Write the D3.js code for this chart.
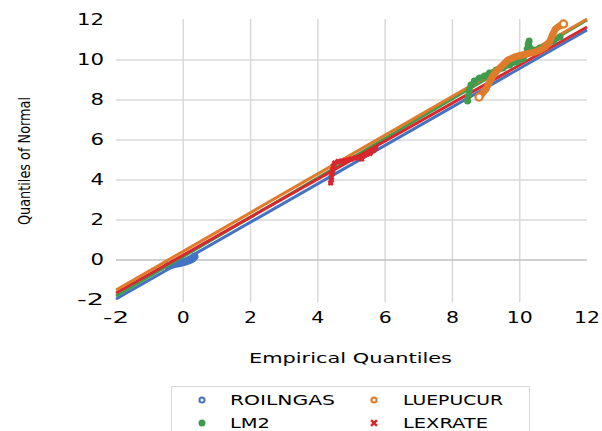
<!DOCTYPE html>
<meta charset="utf-8">
<style>
body { margin: 0; background: #fff; }
svg { display: block; }
.grid line { stroke: #d9d9d9; stroke-width: 1.5px; }
.tick-label { font-family: "DejaVu Sans", sans-serif; fill: #000; }
</style>
<svg width="602" height="431"></svg>
<script src="https://d3js.org/d3.v7.min.js"></script>
<script>

// tick values
var xTicks = [-2, 0, 2, 4, 6, 8, 10, 12];
var yTicks = [-2, 0, 2, 4, 6, 8, 10, 12];

var seriesNames = ["ROILNGAS", "LUEPUCUR", "LM2", "LEXRATE"];

// reference lines [x, y] at both ends
var roilngasLine = [[-2, -1.95], [12, 11.5]];
var lm2Line = [[-2, -1.8], [12, 12.0]];
var lexrateLine = [[-2, -1.65], [12, 11.65]];
var luepucurLine = [[-2, -1.5], [12, 12.05]];

// quantile points [empirical, normal]
var roilngasPts = [[-0.45, -0.3], [-0.38, -0.26], [-0.3, -0.22], [-0.22, -0.19], [-0.15, -0.17],
  [-0.1, -0.15], [-0.05, -0.13], [0, -0.11], [0.05, -0.09], [0.1, -0.06], [0.15, -0.03],
  [0.2, 0.0], [0.25, 0.04], [0.3, 0.1], [0.33, 0.16]];

var lexratePts = [[4.38, 3.85], [4.4, 4.0], [4.4, 4.15], [4.42, 4.3], [4.44, 4.5], [4.46, 4.7],
  [4.5, 4.85], [4.6, 4.92], [4.7, 4.95], [4.8, 4.97], [4.9, 5.0], [5.0, 5.05], [5.1, 5.1],
  [5.2, 5.12], [5.3, 5.05], [5.35, 5.2], [5.45, 5.28], [5.55, 5.33], [5.65, 5.48], [5.72, 5.58]];

var lm2Pts = [[8.45, 7.95], [8.47, 8.2], [8.5, 8.5], [8.55, 8.75], [8.65, 8.95], [8.8, 9.1],
  [8.95, 9.2], [9.1, 9.35], [9.3, 9.5], [9.5, 9.6], [9.7, 9.75], [9.9, 9.9], [10.1, 10.05],
  [10.2, 10.3], [10.22, 10.55], [10.25, 10.8], [10.28, 10.95], [10.3, 10.6], [10.4, 10.5],
  [10.6, 10.6], [10.8, 10.75], [11.0, 10.95], [11.2, 11.15]];

var luepucurPts = [[8.79, 8.15], [8.9, 8.35], [9.0, 8.55], [9.1, 8.9], [9.2, 9.2], [9.34, 9.5],
  [9.5, 9.75], [9.65, 10.0], [9.85, 10.15], [10.07, 10.25], [10.25, 10.32], [10.46, 10.4],
  [10.6, 10.5], [10.76, 10.65], [10.9, 10.95], [10.97, 11.25], [11.06, 11.55], [11.18, 11.7],
  [11.3, 11.8]];

var colors = { ROILNGAS: "#4472c4", LUEPUCUR: "#e07b2a", LM2: "#3f9c4e", LEXRATE: "#d8272d" };

var svg = d3.select("svg");

var x = d3.scaleLinear().domain([-2, 12]).range([116, 587]),
    y = d3.scaleLinear().domain([-2, 12]).range([300, 20]);

// grid
var grid = svg.append("g").attr("class", "grid");
grid.selectAll(".h").data(yTicks.filter(function(d) { return d > -2 && d < 12 && d !== 0; }))
  .enter().append("line")
    .attr("x1", x(-2)).attr("x2", x(12))
    .attr("y1", function(d) { return y(d); }).attr("y2", function(d) { return y(d); });
grid.selectAll(".v").data(xTicks.filter(function(d) { return d > -2 && d < 12; }))
  .enter().append("line")
    .attr("x1", function(d) { return x(d); }).attr("x2", function(d) { return x(d); })
    .attr("y1", y(12) - 1).attr("y2", y(-2) + 2);
svg.append("line")
    .attr("x1", x(-2)).attr("x2", x(12))
    .attr("y1", y(0)).attr("y2", y(0))
    .style("stroke", "#bfbfbf").style("stroke-width", 1.5);

// tick labels
svg.selectAll(".ylab").data(yTicks).enter().append("text")
    .attr("class", "tick-label")
    .attr("x", 104)
    .attr("y", function(d) { return y(d) + 5; })
    .attr("text-anchor", "end")
    .style("font-size", "16px")
    .attr("textLength", function(d) { return String(d).length * 13.5; })
    .attr("lengthAdjust", "spacingAndGlyphs")
    .text(function(d) { return d < 0 ? "-" + Math.abs(d) : d; });

svg.selectAll(".xlab").data(xTicks).enter().append("text")
    .attr("class", "tick-label")
    .attr("x", function(d) { return x(d); })
    .attr("y", 323)
    .attr("text-anchor", "middle")
    .style("font-size", "16px")
    .attr("textLength", function(d) { return String(d).length * 13; })
    .attr("lengthAdjust", "spacingAndGlyphs")
    .text(function(d) { return d < 0 ? "-" + Math.abs(d) : d; });

// titles
svg.append("text")
    .attr("class", "tick-label")
    .attr("x", 249).attr("y", 363)
    .style("font-size", "14px")
    .attr("textLength", 203)
    .attr("lengthAdjust", "spacingAndGlyphs")
    .text("Empirical Quantiles");

svg.append("text")
    .attr("class", "tick-label")
    .attr("transform", "translate(30,225) rotate(-90)")
    .style("font-size", "16px")
    .attr("textLength", 128)
    .attr("lengthAdjust", "spacingAndGlyphs")
    .text("Quantiles of Normal");

// reference lines
var line = d3.line()
    .x(function(d) { return x(d[0]); })
    .y(function(d) { return y(d[1]); });

var lines = [
  { name: "ROILNGAS", values: roilngasLine },
  { name: "LM2", values: lm2Line },
  { name: "LEXRATE", values: lexrateLine },
  { name: "LUEPUCUR", values: luepucurLine }
];

// point clusters: dense markers merge into a thick band
function band(pts, name, w) {
  svg.append("path")
      .attr("d", line(pts))
      .style("fill", "none")
      .style("stroke", colors[name])
      .style("stroke-width", w)
      .style("stroke-linejoin", "round")
      .style("stroke-linecap", "round");
}

band(roilngasPts, "ROILNGAS", 8);

svg.selectAll(".ref").data(lines).enter().append("path")
    .attr("d", function(d) { return line(d.values); })
    .style("fill", "none")
    .style("stroke", function(d) { return colors[d.name]; })
    .style("stroke-width", 3);

band(lexratePts, "LEXRATE", 4.5);
svg.append("g").selectAll("path").data(lexratePts).enter().append("path")
    .attr("transform", function(d) { return "translate(" + x(d[0]) + "," + y(d[1]) + ")"; })
    .attr("d", d3.symbol(d3.symbolX, 14))
    .style("stroke", colors.LEXRATE)
    .style("stroke-width", 2.5);

band(lm2Pts, "LM2", 5);
svg.append("g").selectAll("circle").data(lm2Pts).enter().append("circle")
    .attr("cx", function(d) { return x(d[0]); })
    .attr("cy", function(d) { return y(d[1]); })
    .attr("r", 3.5)
    .style("fill", colors.LM2);

band(luepucurPts, "LUEPUCUR", 7);

// isolated open circles at the cluster ends
var rings = [luepucurPts[0], luepucurPts[luepucurPts.length - 1]];
svg.append("g").selectAll("circle").data(rings).enter().append("circle")
    .attr("cx", function(d) { return x(d[0]); })
    .attr("cy", function(d) { return y(d[1]); })
    .attr("r", 3.6)
    .style("fill", "#fff")
    .style("stroke", colors.LUEPUCUR)
    .style("stroke-width", 2.2);

// legend
var legend = svg.append("g");
legend.append("rect")
    .attr("x", 171.5).attr("y", 386.5)
    .attr("width", 358).attr("height", 60)
    .style("fill", "#fff").style("stroke", "#d9d9d9");

var legendItems = [
  { name: seriesNames[0], lx: 202, ly: 400, tx: 230, w: 105, type: "open" },
  { name: seriesNames[1], lx: 374, ly: 400, tx: 403, w: 100, type: "open" },
  { name: seriesNames[2], lx: 202, ly: 423, tx: 230, w: 40, type: "filled" },
  { name: seriesNames[3], lx: 374, ly: 423, tx: 403, w: 85, type: "x" }
];

legendItems.forEach(function(it) {
  if (it.type === "open") {
    legend.append("circle").attr("cx", it.lx).attr("cy", it.ly).attr("r", 2.6)
        .style("fill", "#fff").style("stroke", colors[it.name]).style("stroke-width", 2);
  } else if (it.type === "filled") {
    legend.append("circle").attr("cx", it.lx).attr("cy", it.ly).attr("r", 3.5)
        .style("fill", colors[it.name]);
  } else {
    legend.append("path").attr("transform", "translate(" + it.lx + "," + it.ly + ")")
        .attr("d", d3.symbol(d3.symbolX, 24))
        .style("stroke", colors[it.name]).style("stroke-width", 2.5);
  }
  legend.append("text")
      .attr("class", "tick-label")
      .attr("x", it.tx).attr("y", it.ly + 5)
      .style("font-size", "14px")
      .attr("textLength", it.w)
      .attr("lengthAdjust", "spacingAndGlyphs")
      .text(it.name);
});

</script>
